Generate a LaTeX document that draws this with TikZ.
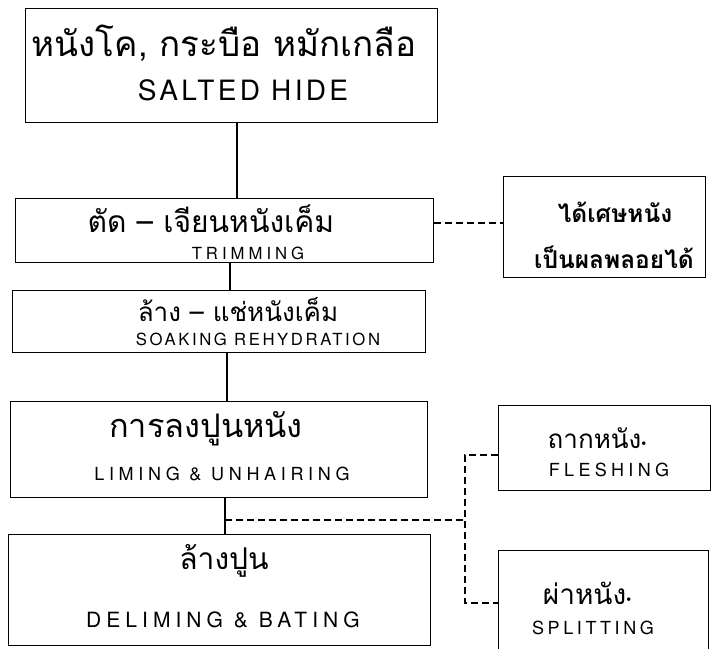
\documentclass[tikz,border=0pt]{standalone}
\usepackage{fontspec}
\newfontfamily\thai[Script=Thai]{Loma}
\newfontfamily\eng{TeX Gyre Heros}
\newcommand\engls[2]{\eng\fontsize{#1}{#1}\selectfont\addfontfeature{LetterSpace=#2}}
\begin{document}
\begin{tikzpicture}[x=1pt,y=-1pt,
  box/.style={draw,line width=1.4pt,inner sep=0pt,anchor=north west},
  conn/.style={line width=1.4pt},
  dconn/.style={line width=1.4pt,dash pattern=on 7pt off 4pt},
  th/.style={inner sep=0pt},
  en/.style={inner sep=0pt}]
\useasboundingbox (0,0) rectangle (712,648);
\clip (0,0) rectangle (712,648);
% main boxes
\node[box,minimum width=412pt,minimum height=114pt] (b1) at (25,8) {};
\node[box,minimum width=418pt,minimum height=64pt] (b2) at (15,198) {};
\node[box,minimum width=413pt,minimum height=62pt] (b3) at (12,290) {};
\node[box,minimum width=417pt,minimum height=96pt] (b4) at (10,401) {};
\node[box,minimum width=422pt,minimum height=111pt] (b5) at (8,534) {};
% side boxes
\node[box,minimum width=202pt,minimum height=101pt] (s1) at (503,176) {};
\node[box,minimum width=212pt,minimum height=85pt] (fl) at (498,405) {};
\node[box,minimum width=210pt,minimum height=110pt] (sp) at (498,550) {};
% texts
\node[th,font=\thai\fontsize{35}{35}\selectfont] (t1a) at (224,43) {หนังโค, กระบือ หมักเกลือ};
\node[en,font=\engls{28}{12}] (t1b) at (243,90) {SALTED HIDE};
\node[th,font=\thai\fontsize{30}{30}\selectfont] (t2a) at (211,219) {ตัด – เจียนหนังเค็ม};
\node[en,font=\engls{16.7}{24}] (t2b) at (248,253) {TRIMMING};
\node[th,font=\thai\fontsize{26}{26}\selectfont] (t3a) at (238,310) {ล้าง – แช่หนังเค็ม};
\node[en,font=\engls{16.7}{15.5}] (t3b) at (258,339) {SOAKING REHYDRATION};
\node[th,font=\thai\fontsize{32.5}{32.5}\selectfont] (t4a) at (206,429) {การลงปูนหนัง};
\node[en,font=\engls{18}{26}] (t4b) at (222,474) {LIMING \& UNHAIRING};
\node[th,font=\thai\fontsize{30}{30}\selectfont] (t5a) at (224,561) {ล้างปูน};
\node[en,font=\engls{21}{24}] (t5b) at (223,620) {DELIMING \& BATING};
\node[th,font=\thai\bfseries\fontsize{24.5}{24.5}\selectfont] (s1a) at (615,212) {ได้เศษหนัง};
\node[th,font=\thai\bfseries\fontsize{24.5}{24.5}\selectfont] (s1b) at (614,257) {เป็นผลพลอยได้};
\node[th,font=\thai\fontsize{26}{26}\selectfont] (fla) at (597,438) {ถากหนัง{\eng\fontsize{14}{14}\selectfont •}};
\node[en,font=\engls{18}{24}] (flb) at (609,470) {FLESHING};
\node[th,font=\thai\fontsize{28}{28}\selectfont] (spa) at (587,593) {ผ่าหนัง{\eng\fontsize{14}{14}\selectfont •}};
\node[en,font=\engls{18}{20}] (spb) at (593,628) {SPLITTING};
% connectors
\coordinate (x1) at (237,0);
\coordinate (x2) at (230,0);
\coordinate (x3) at (227,0);
\coordinate (x4) at (225,0);
\draw[conn] (x1 |- b1.south) -- (x1 |- b2.north);
\draw[conn] (x2 |- b2.south) -- (x2 |- b3.north);
\draw[conn] (x3 |- b3.south) -- (x3 |- b4.north);
\draw[conn] (x4 |- b4.south) -- (x4 |- b5.north);
% dashed branches
\coordinate (y1) at (0,223);
\coordinate (j) at (465,520);
\coordinate (yf) at (0,455);
\coordinate (ys) at (0,603);
\draw[dconn] (b2.east |- y1) -- (s1.west |- y1);
\draw[dconn] (x4 |- j) -- (j);
\draw[dconn] (fl.west |- yf) -- (j |- yf) -- (j |- ys) -- (sp.west |- ys);
\end{tikzpicture}
\end{document}
